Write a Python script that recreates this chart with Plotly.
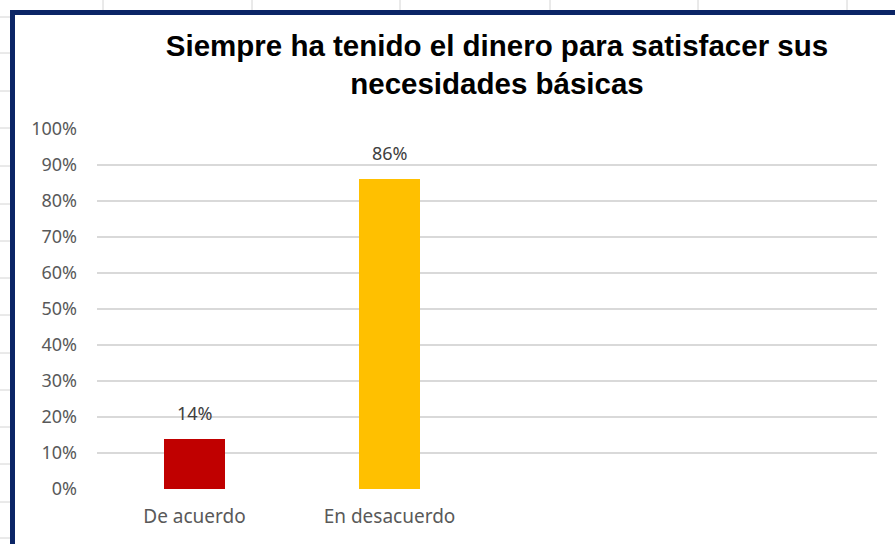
import plotly.graph_objects as go

# ---- data ----
categories = ["De acuerdo", "En desacuerdo"]
values = [0.14, 0.86]
bar_colors = ["#C00000", "#FFC000"]
value_labels = ["14%", "86%"]
y_ticks = [i / 10 for i in range(11)]
y_tick_labels = [f"{i * 10}%" for i in range(11)]
title_text = "Siempre ha tenido el dinero para satisfacer sus<br>necesidades básicas"

W, H = 895, 544
L, R, T, B = 97, 18, 129, 55
PW, PH = W - L - R, H - T - B


def px(x):
    return (x - L) / PW


def py(y):
    return (H - B - y) / PH


x_pos = list(range(len(categories)))

fig = go.Figure()
fig.add_trace(go.Bar(
    x=x_pos, y=values, marker=dict(color=bar_colors, line=dict(width=0)),
    width=0.31, hoverinfo="skip",
))

for xv, yv, lab in zip(x_pos, values, value_labels):
    fig.add_annotation(x=xv, y=yv, text=lab, showarrow=False, yanchor="bottom",
                       yshift=12, font=dict(family="Noto Sans", size=18, color="#404040"))

shapes = []
# spreadsheet grid outside the chart
grid_color = "#D4D4D4"
for cx in [103, 252, 400, 550, 698, 847]:
    shapes.append(dict(type="line", xref="paper", yref="paper", x0=px(cx), x1=px(cx),
                       y0=py(0), y1=py(11), line=dict(color=grid_color, width=1), layer="below"))
for ry in [17, 53, 91, 128, 166, 204, 241, 278, 315, 353, 390, 427, 464, 502, 538]:
    shapes.append(dict(type="line", xref="paper", yref="paper", x0=px(0), x1=px(10),
                       y0=py(ry), y1=py(ry), line=dict(color=grid_color, width=1), layer="below"))
# navy chart border
shapes.append(dict(type="rect", xref="paper", yref="paper", x0=px(12.5), x1=px(905),
                   y0=py(555), y1=py(12.5), line=dict(color="#0B2566", width=5),
                   fillcolor="rgba(0,0,0,0)", layer="above"))

fig.update_layout(
    width=W, height=H,
    margin=dict(l=L, r=R, t=T, b=B, pad=0),
    paper_bgcolor="white", plot_bgcolor="white",
    showlegend=False,
    shapes=shapes,
    title=dict(text=title_text, x=497 / W, xanchor="center", xref="container",
               y=1 - 56 / H, yanchor="middle", yref="container",
               font=dict(family="Liberation Sans", size=29.5, color="black", weight="bold")),
    xaxis=dict(range=[-0.5, 3.5], tickvals=x_pos, ticktext=categories,
               showgrid=False, zeroline=False, showline=False, ticks="",
               ticklabelstandoff=14,
               tickfont=dict(family="Noto Sans", size=19, color="#595959"), fixedrange=True),
    yaxis=dict(range=[0, 1], tickvals=y_ticks, ticktext=y_tick_labels,
               showgrid=True, gridcolor="#D9D9D9", gridwidth=1.5, zeroline=False,
               showline=False, ticks="", ticklabelstandoff=19,
               tickfont=dict(family="Noto Sans", size=18, color="#595959"), fixedrange=True),
    bargap=0,
)

fig.write_html("out.html")
